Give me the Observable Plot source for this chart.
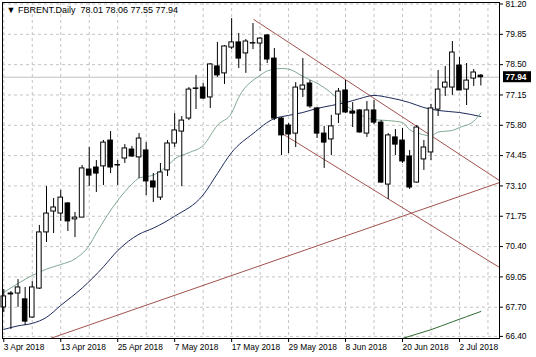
<!DOCTYPE html>
<html><head><meta charset="utf-8">
<script src="https://cdn.jsdelivr.net/npm/d3@7"></script>
<script src="https://cdn.jsdelivr.net/npm/@observablehq/plot@0.6"></script>
<style>html,body{margin:0;padding:0;background:#fff}svg{display:block}</style>
</head><body><div id="chart"></div>
<script>
const symbolName = "FBRENT.Daily";
const dateLabels = ["3 Apr 2018","13 Apr 2018","25 Apr 2018","7 May 2018","17 May 2018","29 May 2018","8 Jun 2018","20 Jun 2018","2 Jul 2018"];
const dateLabelBars = [0,8,16,24,32,40,48,56,64];
const gridBars = [0,4,8,12,16,20,24,28,32,36,40,44,48,52,56,60,64,68];
const yTicks = [81.20,79.85,78.50,77.15,75.80,74.45,73.10,71.75,70.40,69.05,67.70,66.40];

const opens = [67.69,68.27,68.31,68.05,67.24,68.53,71.03,71.96,71.87,72.32,
71.61,71.69,73.83,73.92,73.97,75.12,74.01,74.32,74.72,74.37,
74.68,73.30,72.58,73.79,74.99,75.52,76.10,77.44,77.48,77.04,
78.42,78.11,79.26,79.49,79.00,79.44,79.44,79.80,78.77,76.10,
75.79,75.43,77.39,77.66,76.55,75.43,75.17,76.28,77.35,76.41,
76.46,75.43,76.46,75.92,73.16,75.26,75.12,74.41,73.25,74.28,
74.59,76.50,77.48,77.48,78.46,77.39,77.88,78.01];
const highs = [68.49,68.40,68.93,68.58,68.84,71.34,73.07,72.54,72.90,72.36,
71.92,74.01,74.81,74.23,75.12,75.52,74.23,74.94,74.86,75.43,
75.03,73.65,74.10,75.12,76.32,76.19,77.48,78.02,77.66,78.55,
79.49,79.35,80.55,79.89,79.62,80.33,79.71,79.84,79.22,76.15,
75.88,77.70,78.77,77.79,76.59,75.75,76.24,77.44,77.79,76.81,
76.50,76.86,76.90,76.01,75.43,75.61,75.66,74.68,75.79,75.12,
76.73,78.24,78.42,79.53,78.82,78.55,78.28,78.06];
const lows = [67.46,66.71,67.69,66.89,67.20,68.49,70.58,70.98,71.52,71.07,
70.80,71.69,73.07,72.81,73.12,73.65,73.12,74.10,74.37,73.43,
72.67,72.36,72.45,73.52,74.81,73.07,76.01,76.50,76.95,76.55,
77.93,77.62,79.17,78.33,78.11,79.17,78.19,78.55,76.01,74.45,
74.54,74.81,77.04,76.55,75.21,73.88,74.45,75.88,76.32,75.70,
75.45,75.26,75.83,73.21,72.50,74.45,74.10,72.94,73.23,73.79,
74.23,76.19,77.08,77.13,77.35,76.68,77.53,77.55];
const closes = [68.18,68.31,68.58,67.06,68.58,71.03,71.87,72.14,72.58,71.52,
71.69,73.88,73.56,73.65,75.03,73.92,74.03,74.77,74.41,75.21,
73.30,73.03,73.70,74.99,75.57,76.01,77.39,77.42,76.99,78.51,
78.02,79.31,79.49,78.77,79.53,79.46,79.66,78.73,76.10,75.35,
75.39,77.48,77.57,76.64,75.43,75.03,75.75,77.30,76.37,76.32,
75.48,76.46,75.92,73.25,75.35,74.94,74.19,73.03,75.70,74.81,
76.55,77.39,77.70,79.04,77.35,77.79,78.15,77.94];

const fastMaBars = [0,4,6,8,10,12,13,16,18,19,21,23,24,26,28,30,32,33,36,37,39,40,42,45,48,50,52,54,56,57,58,60,61,63,64,66,67];
const fastMaValues = [68.36,69.11,69.40,69.60,69.85,70.45,71.00,72.45,73.18,73.45,73.58,74.00,74.30,74.58,74.90,75.80,76.35,77.05,78.02,78.22,78.33,78.30,77.98,77.48,76.70,76.28,76.05,76.01,75.92,75.60,75.47,75.33,75.50,75.57,75.70,75.98,76.35];
const slowMaBars = [0,2,4,6,8,11,14,16,19,21,24,28,30,32,35,38,40,42,44,46,48,50,52,54,57,59,61,64,67];
const slowMaValues = [66.71,66.87,66.98,67.25,67.78,68.55,69.50,70.22,70.95,71.22,71.75,72.70,73.65,74.59,75.43,76.10,76.24,76.37,76.55,76.68,76.81,76.99,77.13,77.04,76.81,76.59,76.46,76.37,76.19];
const longMaBars = [55,56,60,63,67];
const longMaValues = [66.20,66.31,66.70,67.05,67.51];

const upperChannelBars = [35.1, 69.62];
const upperChannelPrices = [80.51, 73.34];
const lowerChannelBars = [39.1, 69.62];
const lowerChannelPrices = [75.43, 69.47];
const risingLineBars = [6.56, 69.62];
const risingLinePrices = [66.31, 73.25];

const candles = opens.map((o, i) => ({i, o, h: highs[i], l: lows[i], c: closes[i]}));
const pts = (bars, vals) => bars.map((b, k) => ({b, v: vals[k]}));
const last = candles[candles.length - 1];
const titleText = "\u25BC " + symbolName + "\u00A0\u00A0" + [last.o, last.h, last.l, last.c].map(v => v.toFixed(2)).join(" ");

const trendColor = "#a0524e";
const font = "'Liberation Sans', Arial, sans-serif";

const chart = Plot.plot({
  width: 536, height: 357,
  marginLeft: 2, marginRight: 37, marginTop: 2, marginBottom: 19,
  x: {type: "linear", domain: [-0.18, 69.62], axis: null},
  y: {domain: [66.307, 81.267], axis: null},
  style: {fontFamily: font, fontSize: "8.4px", background: "white", color: "black", overflow: "visible"},
  marks: [
    Plot.gridY(yTicks, {stroke: "#c4c4c4", strokeOpacity: 1, strokeDasharray: "3,3"}),
    Plot.gridX(gridBars, {stroke: "#c4c4c4", strokeOpacity: 1, strokeDasharray: "3,3"}),
    Plot.ruleY([last.c], {stroke: "#c0c0c0"}),
    Plot.line(pts(longMaBars, longMaValues), {x: "b", y: "v", stroke: "#2f6b30", strokeWidth: 1, curve: "monotone-x", clip: true}),
    Plot.line(pts(upperChannelBars, upperChannelPrices), {x: "b", y: "v", stroke: trendColor, strokeWidth: 1, clip: true}),
    Plot.line(pts(lowerChannelBars, lowerChannelPrices), {x: "b", y: "v", stroke: trendColor, strokeWidth: 1, clip: true}),
    Plot.line(pts(risingLineBars, risingLinePrices), {x: "b", y: "v", stroke: trendColor, strokeWidth: 1, clip: true}),
    Plot.line(pts(slowMaBars, slowMaValues), {x: "b", y: "v", stroke: "#1c2a5c", strokeWidth: 1, curve: "monotone-x", clip: true}),
    Plot.line(pts(fastMaBars, fastMaValues), {x: "b", y: "v", stroke: "#7fa892", strokeWidth: 1, curve: "monotone-x", clip: true}),
    Plot.ruleX(candles, {x: "i", y1: "l", y2: "h", stroke: "black", strokeWidth: 1}),
    Plot.rect(candles, {x1: d => d.i - 0.32, x2: d => d.i + 0.32, y1: "o", y2: "c", fill: d => d.c >= d.o ? "white" : "black", stroke: "black", strokeWidth: 1}),
    Plot.frame({stroke: "black"}),
    Plot.axisY(yTicks, {anchor: "right", tickSize: 3, tickPadding: 3, tickFormat: d => d.toFixed(2), label: null, fill: "black"}),
    Plot.axisX(dateLabelBars, {anchor: "bottom", tickSize: 4, tickPadding: 2, textAnchor: "start", tickFormat: d => dateLabels[dateLabelBars.indexOf(d)], label: null, fill: "black"}),
    Plot.text([titleText], {frameAnchor: "top-left", dx: 4, dy: 4, text: d => d, textAnchor: "start", lineAnchor: "top", fontSize: 9, fill: "black"}),
    Plot.text([last.c], {y: d => d, frameAnchor: "right", dx: 6, text: d => d.toFixed(2), textAnchor: "start", fill: "white", fontWeight: "bold"})
  ]
});

// black box behind the current-price label, placed with the chart's own y scale
const yPos = chart.scale("y").apply(last.c);
const box = document.createElementNS("http://www.w3.org/2000/svg", "rect");
box.setAttribute("x", 503);
box.setAttribute("y", yPos - 5.5);
box.setAttribute("width", 28);
box.setAttribute("height", 11);
box.setAttribute("fill", "black");
chart.insertBefore(box, chart.lastChild);

document.getElementById("chart").appendChild(chart);
</script>
</body></html>
